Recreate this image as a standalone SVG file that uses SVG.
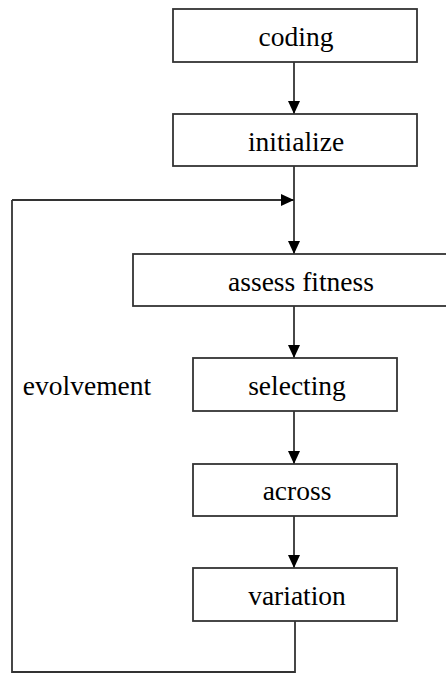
<svg xmlns="http://www.w3.org/2000/svg" width="446" height="673" viewBox="0 0 446 673">
<style>
.box{fill:#fff;stroke:#333;stroke-width:1.8}
.lbl{font-size:27.5px;fill:#000;text-anchor:middle}
.ln{fill:none;stroke:#333;stroke-width:1.8}
</style>
<defs>
<marker id="ah" markerWidth="13" markerHeight="12" refX="13" refY="6" orient="auto" markerUnits="userSpaceOnUse">
<path d="M0,0 L13,6 L0,12 Z" fill="#000"/>
</marker>
</defs>
<rect width="446" height="673" fill="#fff"/>
<g id="connectors">
<line class="ln" x1="294" y1="62" x2="294" y2="114" marker-end="url(#ah)"/>
<line class="ln" x1="294" y1="166" x2="294" y2="254" marker-end="url(#ah)"/>
<line class="ln" x1="12" y1="200" x2="294" y2="200" marker-end="url(#ah)"/>
<line class="ln" x1="294" y1="306" x2="294" y2="358" marker-end="url(#ah)"/>
<line class="ln" x1="294" y1="411" x2="294" y2="464" marker-end="url(#ah)"/>
<line class="ln" x1="294" y1="516" x2="294" y2="568" marker-end="url(#ah)"/>
<polyline class="ln" points="295,621 295,672 12,672 12,200"/>
</g>
<g font-family="'Liberation Serif', 'Times New Roman', Times, serif">
<g id="coding"><rect class="box" x="173" y="9" width="244" height="53"/><text class="lbl" x="296" y="46">coding</text></g>
<g id="initialize"><rect class="box" x="173" y="114" width="244" height="52"/><text class="lbl" x="296" y="151">initialize</text></g>
<g id="assess"><rect class="box" x="133" y="254" width="320" height="52"/><text class="lbl" x="301" y="291">assess fitness</text></g>
<g id="selecting"><rect class="box" x="193" y="358" width="204" height="53"/><text class="lbl" x="297" y="395">selecting</text></g>
<g id="across"><rect class="box" x="193" y="464" width="204" height="52"/><text class="lbl" x="297" y="500">across</text></g>
<g id="variation"><rect class="box" x="193" y="568" width="204" height="53"/><text class="lbl" x="297" y="605">variation</text></g>
<g id="evolvement"><text class="lbl" x="87" y="395">evolvement</text></g>
</g>
</svg>
